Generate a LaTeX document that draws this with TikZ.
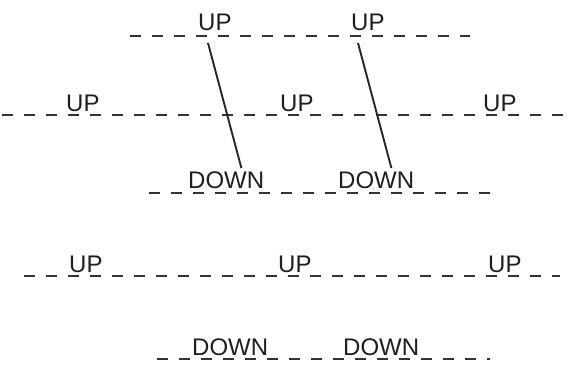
\documentclass[tikz,border=0pt]{standalone}
\usepackage{fontspec}
\setmainfont{Liberation Sans}
\usetikzlibrary{calc}
\begin{document}
\begin{tikzpicture}[x=1pt,y=-1pt,
  lbl/.style={inner sep=0pt, anchor=base west, font=\fontsize{24}{28}\selectfont, text=black!88},
  dline/.style={line width=2.8pt, dash pattern=on 11pt off 11pt, black!80},
  slant/.style={line width=1.9pt, black!85}]
\useasboundingbox[fill=white] (0,0) rectangle (570,369);
% dashed baselines
\draw[dline] (130,36) -- (470,36);
\draw[dline] (2,115) -- (570,115);
\draw[dline] (149,193) -- (490,193);
\draw[dline] (24,276) -- (560,276);
\draw[dline] (157,359) -- (490,359);
% words
\node[lbl] (u1) at (198,31) {UP};
\node[lbl] (u2) at (351,31) {UP};
\node[lbl] (m1) at (66,111) {UP};
\node[lbl] (m2) at (280,111) {UP};
\node[lbl] (m3) at (483,111) {UP};
\node[lbl] (d1) at (188,188) {DOWN};
\node[lbl] (d2) at (338,188) {DOWN};
\node[lbl] (b1) at (69,272) {UP};
\node[lbl] (b2) at (278,272) {UP};
\node[lbl] (b3) at (488,272) {UP};
\node[lbl] (e1) at (192,355) {DOWN};
\node[lbl] (e2) at (343,355) {DOWN};
% slanted connectors
\draw[slant] ($(u1.base west)+(10,12)$) -- ($(d1.north east)+(-23,-3)$);
\draw[slant] ($(u2.base west)+(7,12)$) -- ($(d2.north east)+(-23,-3)$);
\end{tikzpicture}
\end{document}
